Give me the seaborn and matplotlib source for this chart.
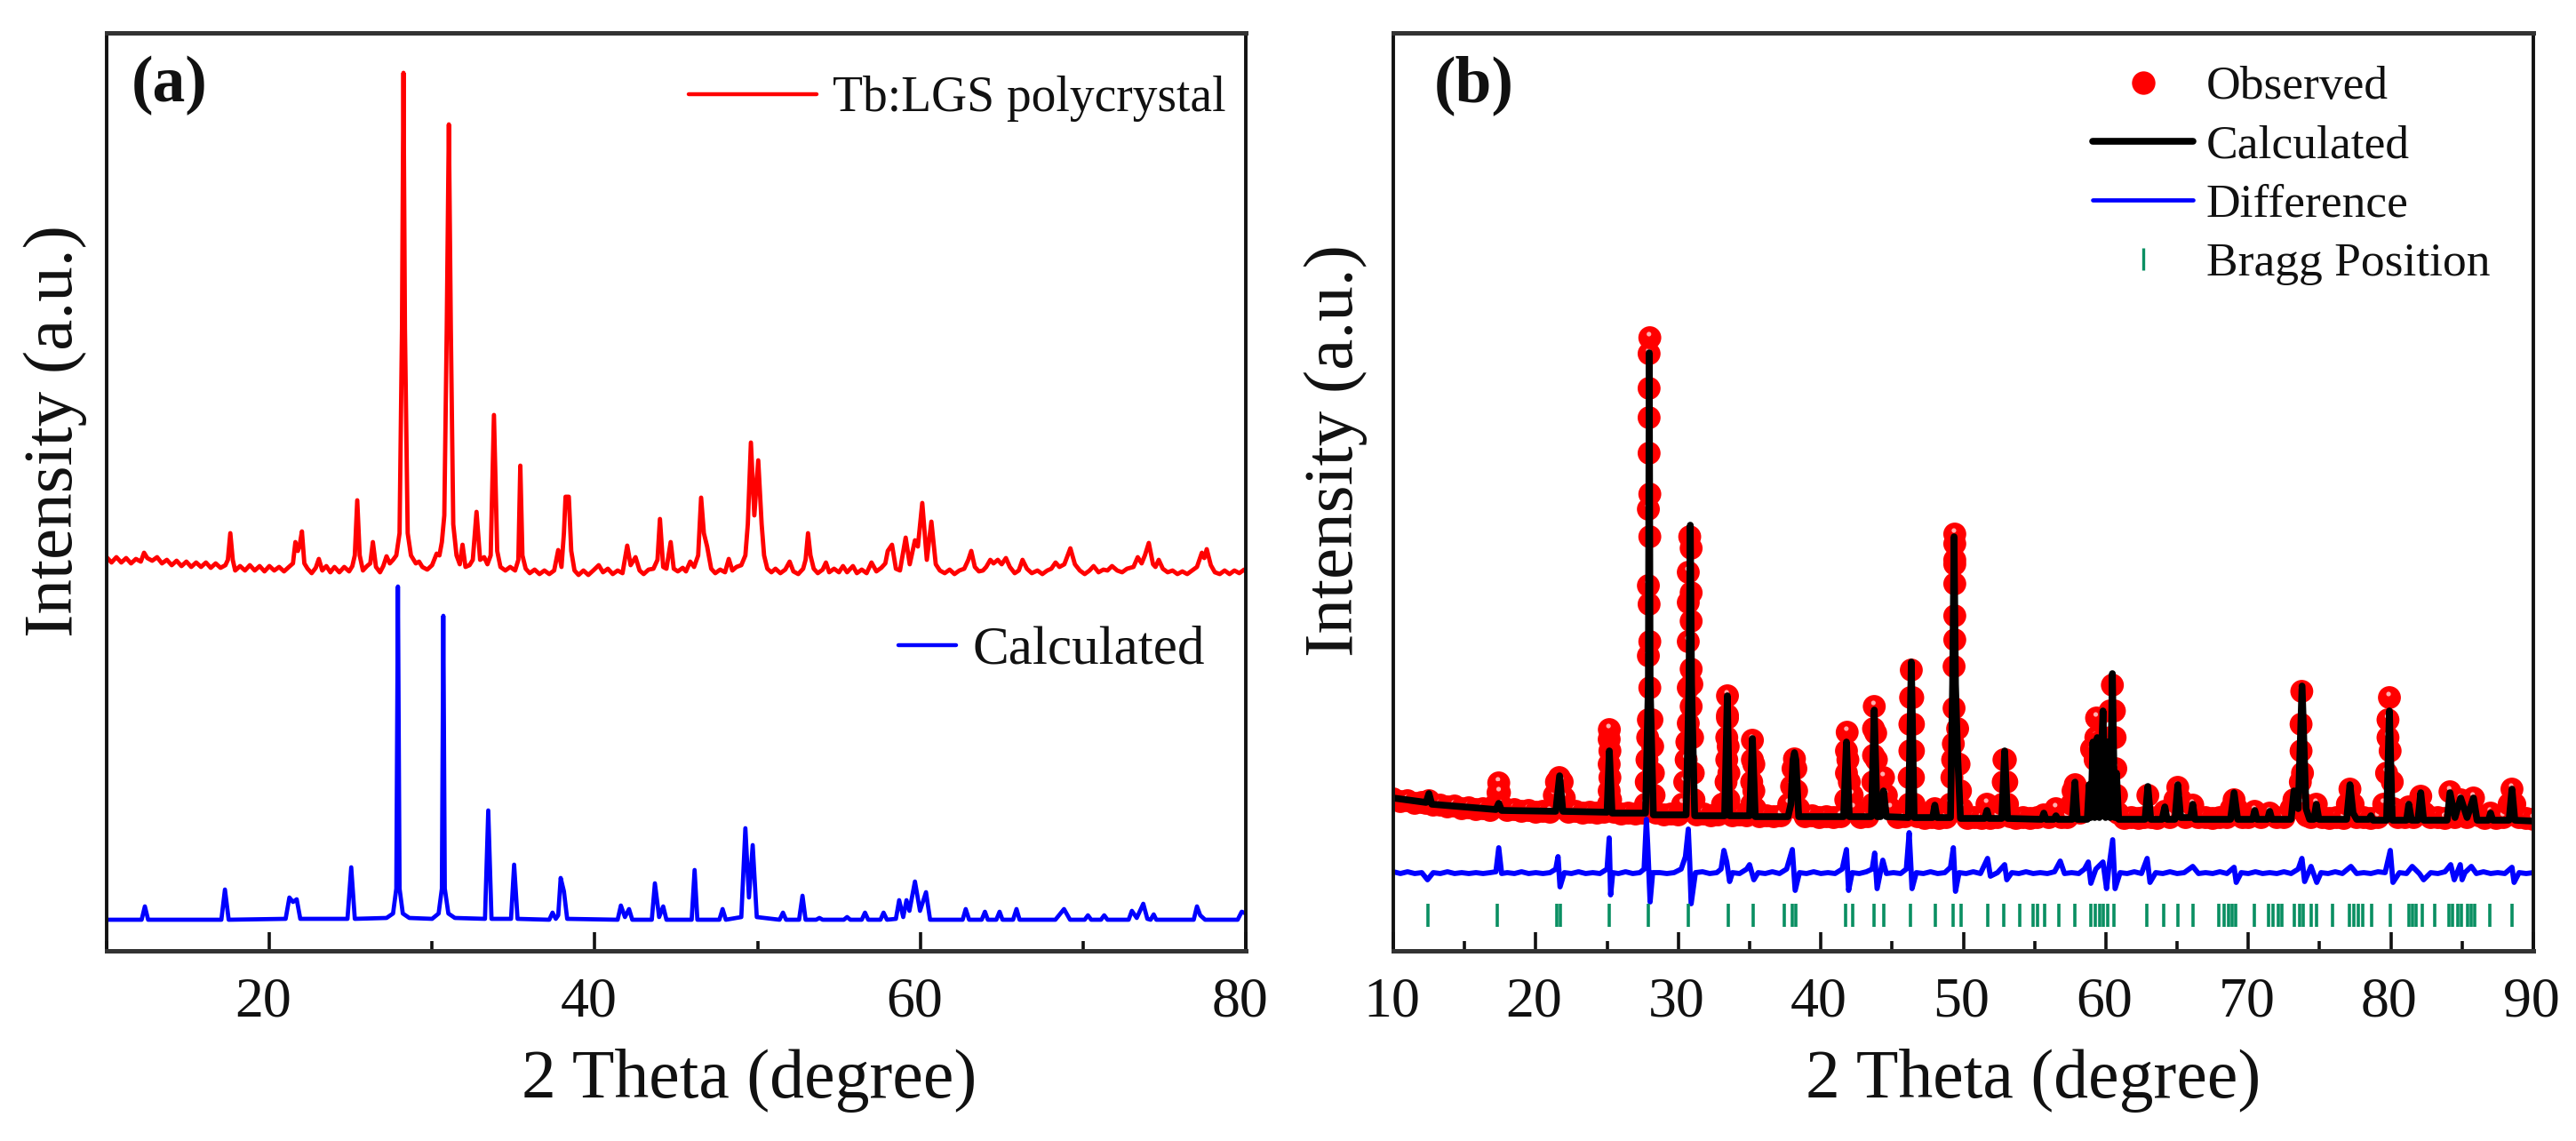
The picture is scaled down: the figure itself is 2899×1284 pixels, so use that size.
import matplotlib
matplotlib.use("Agg")
import matplotlib.pyplot as plt
import numpy as np
import pandas as pd
import seaborn as sns
from matplotlib.lines import Line2D
from matplotlib.ticker import MultipleLocator
from matplotlib.transforms import ScaledTranslation

# intensity values below (arbitrary units)

# panel a, polycrystal pattern
poly_x = [
    10.0, 10.3, 10.6, 10.9, 11.2, 11.5, 11.8, 12.1, 12.3, 12.5,
    12.8, 13.1, 13.4, 13.7, 14.0, 14.3, 14.6, 14.9, 15.2, 15.5,
    15.8, 16.1, 16.4, 16.7, 17.0, 17.3, 17.45, 17.6, 17.75, 17.9,
    18.2, 18.5, 18.8, 19.1, 19.4, 19.7, 20.0, 20.3, 20.6, 20.9,
    21.2, 21.45, 21.6, 21.75, 21.85, 22.0, 22.15, 22.35, 22.6, 22.85,
    23.04, 23.25, 23.5, 23.75, 24.0, 24.3, 24.6, 24.9, 25.1, 25.25,
    25.4, 25.55, 25.75, 26.0, 26.2, 26.36, 26.55, 26.8, 27.0, 27.2,
    27.4, 27.6, 27.8, 28.0, 28.15, 28.24, 28.33, 28.5, 28.7, 29.0,
    29.2, 29.4, 29.7, 30.0, 30.28, 30.45, 30.6, 30.75, 30.9, 31.03,
    31.15, 31.3, 31.5, 31.7, 31.87, 32.05, 32.3, 32.5, 32.73, 32.95,
    33.2, 33.4, 33.6, 33.8, 34.0, 34.2, 34.5, 34.8, 35.1, 35.3,
    35.42, 35.55, 35.75, 36.0, 36.3, 36.6, 36.9, 37.2, 37.5, 37.75,
    37.95, 38.1, 38.2, 38.4, 38.55, 38.75, 39.0, 39.3, 39.6, 39.9,
    40.24, 40.5, 40.8, 41.1, 41.4, 41.7, 41.99, 42.2, 42.5, 42.75,
    43.0, 43.3, 43.6, 43.85, 44.0, 44.2, 44.4, 44.66, 44.85, 45.1,
    45.4, 45.6, 45.86, 46.1, 46.35, 46.53, 46.7, 46.9, 47.15, 47.4,
    47.7, 48.0, 48.23, 48.45, 48.7, 49.0, 49.25, 49.4, 49.59, 49.8,
    50.04, 50.25, 50.4, 50.6, 50.85, 51.1, 51.4, 51.7, 51.97, 52.2,
    52.5, 52.8, 52.95, 53.1, 53.25, 53.45, 53.7, 54.0, 54.2, 54.4,
    54.7, 55.0, 55.25, 55.5, 55.86, 56.1, 56.4, 56.7, 57.0, 57.3,
    57.6, 57.85, 58.0, 58.26, 58.5, 58.75, 59.1, 59.35, 59.67, 59.85,
    60.12, 60.4, 60.68, 60.95, 61.2, 61.5, 61.8, 62.1, 62.4, 62.7,
    62.95, 63.13, 63.35, 63.6, 63.85, 64.05, 64.3, 64.5, 64.76, 65.0,
    65.26, 65.5, 65.8, 66.05, 66.28, 66.55, 66.85, 67.2, 67.5, 67.8,
    68.05, 68.31, 68.55, 68.85, 69.22, 69.5, 69.8, 70.1, 70.4, 70.65,
    70.95, 71.25, 71.5, 71.78, 72.1, 72.4, 72.7, 73.1, 73.36, 73.6,
    73.8, 74.04, 74.3, 74.45, 74.65, 74.9, 75.2, 75.5, 75.8, 76.1,
    76.4, 76.7, 77.0, 77.3, 77.45, 77.6, 77.85, 78.1, 78.4, 78.7,
    79.0, 79.3, 79.6, 79.9, 80.0,
]
poly_y = [
    443, 437, 443, 437, 442, 436, 441, 438, 448, 442,
    439, 443, 436, 440, 434, 439, 433, 438, 432, 437,
    432, 437, 431, 436, 431, 434, 440, 470, 440, 428,
    433, 428, 434, 428, 433, 427, 433, 428, 432, 427,
    432, 436, 460, 450, 455, 472, 436, 430, 425, 431,
    441, 428, 433, 426, 432, 426, 432, 427, 433, 445,
    507, 445, 428, 433, 436, 460, 432, 426, 433, 444,
    436, 440, 445, 470, 700, 988, 700, 470, 445, 436,
    438, 432, 429, 434, 447, 445, 460, 490, 700, 930,
    700, 480, 445, 435, 457, 432, 434, 440, 494, 440,
    443, 435, 445, 603, 450, 432, 428, 432, 428, 440,
    546, 445, 430, 425, 429, 424, 428, 424, 428, 451,
    432, 470, 511, 511, 450, 428, 423, 428, 423, 428,
    434, 426, 430, 424, 428, 425, 456, 434, 443, 428,
    424, 429, 430, 440, 486, 432, 430, 460, 430, 427,
    431, 427, 438, 432, 445, 510, 470, 455, 430, 425,
    429, 426, 441, 428, 432, 434, 445, 480, 572, 490,
    552, 480, 445, 430, 426, 430, 425, 429, 438, 427,
    424, 430, 440, 470, 445, 430, 425, 429, 437, 426,
    430, 426, 433, 426, 433, 425, 429, 425, 437, 427,
    431, 436, 450, 457, 430, 428, 465, 435, 462, 455,
    504, 440, 483, 435, 428, 425, 429, 424, 428, 430,
    440, 450, 432, 427, 428, 432, 440, 436, 440, 435,
    442, 432, 425, 428, 440, 430, 425, 428, 424, 428,
    430, 437, 432, 435, 453, 435, 428, 424, 428, 433,
    426, 429, 428, 433, 428, 426, 430, 432, 443, 436,
    445, 459, 435, 432, 440, 430, 426, 428, 424, 427,
    424, 428, 432, 448, 442, 452, 434, 426, 424, 428,
    424, 428, 425, 429, 427,
]

# panel a, calculated pattern
model_x = [
    10.0, 12.15, 12.35, 12.55, 17.05, 17.27, 17.5, 21.0, 21.23, 21.45,
    21.68, 21.9, 24.8, 25.03, 25.25, 27.2, 27.6, 27.8, 27.9, 28.0,
    28.2, 28.6, 30.0, 30.4, 30.6, 30.69, 30.78, 31.0, 31.4, 33.25,
    33.45, 33.65, 34.85, 35.04, 35.25, 37.2, 37.4, 37.6, 37.75, 37.9,
    38.1, 38.3, 41.4, 41.6, 41.85, 42.1, 42.3, 43.5, 43.69, 43.95,
    44.2, 44.4, 45.95, 46.13, 46.3, 47.65, 47.85, 48.05, 49.0, 49.25,
    49.47, 49.7, 49.95, 51.35, 51.56, 51.75, 52.55, 52.76, 52.95, 53.6,
    53.8, 54.0, 55.3, 55.5, 55.7, 56.4, 56.6, 56.8, 57.55, 57.74,
    57.95, 58.5, 58.7, 58.95, 59.15, 59.33, 59.67, 59.98, 60.35, 60.6,
    62.6, 62.79, 63.0, 63.77, 63.97, 64.15, 64.67, 64.87, 65.05, 65.7,
    65.91, 66.1, 68.3, 68.83, 69.2, 70.1, 70.3, 70.5, 71.1, 71.3,
    71.5, 72.8, 73.0, 73.3, 73.7, 73.95, 74.15, 74.34, 74.5, 76.8,
    77.0, 77.2, 77.5, 79.5, 79.75, 80.0,
]
model_y = [
    35, 35, 50, 35, 35, 69, 35, 36, 60, 55,
    58, 36, 36, 94, 36, 37, 42, 70, 410, 70,
    42, 37, 36, 42, 70, 377, 70, 42, 37, 36,
    158, 36, 36, 97, 36, 35, 43, 36, 40, 82,
    67, 36, 35, 51, 38, 47, 35, 35, 76, 38,
    50, 35, 35, 91, 35, 35, 47, 35, 38, 138,
    60, 119, 38, 35, 43, 35, 35, 62, 35, 35,
    37, 35, 35, 38, 35, 35, 43, 35, 35, 43,
    35, 36, 57, 38, 57, 45, 78, 45, 66, 35,
    35, 47, 35, 35, 44, 35, 35, 44, 35, 35,
    47, 35, 35, 47, 35, 35, 40, 35, 35, 40,
    35, 35, 45, 37, 53, 36, 35, 41, 35, 35,
    50, 40, 35, 35, 44, 42,
]

# panel b, observed points
obs_x = [
    10.0, 10.5, 11.0, 11.5, 12.0, 12.3, 12.5, 12.8, 13.3, 13.8,
    14.3, 14.8, 15.3, 15.8, 16.3, 16.8, 17.2, 17.35, 17.4, 17.45,
    17.6, 18.0, 18.5, 19.0, 19.5, 20.0, 20.5, 21.0, 21.3, 21.45,
    21.65, 21.85, 22.0, 22.3, 22.8, 23.3, 23.8, 24.3, 24.8, 25.1,
    25.15, 25.2, 25.15, 25.2, 25.15, 25.16, 25.25, 25.5, 26.0, 26.5,
    27.0, 27.5, 27.7, 27.75, 27.8, 27.85, 27.9, 28.0, 27.9, 28.0,
    27.95, 27.9, 28.0, 27.9, 28.0, 27.95, 27.95, 27.95, 28.0, 27.95,
    28.15, 28.2, 28.25, 28.3, 28.45, 29.0, 29.5, 30.0, 30.3, 30.45,
    30.55, 30.6, 30.7, 30.9, 30.7, 30.9, 30.7, 30.9, 30.7, 30.9,
    30.7, 30.9, 30.8, 30.95, 31.0, 31.05, 31.1, 31.3, 31.8, 32.3,
    32.8, 33.1, 33.35, 33.4, 33.4, 33.45, 33.45, 33.45, 33.5, 33.55,
    33.55, 33.6, 33.8, 34.3, 34.8, 35.15, 35.15, 35.2, 35.2, 35.3,
    35.3, 35.4, 35.7, 36.2, 36.7, 37.2, 37.75, 37.95, 38.05, 38.15,
    38.25, 38.3, 38.45, 38.9, 39.4, 39.9, 40.4, 40.9, 41.4, 41.75,
    41.8, 41.8, 41.85, 41.9, 42.0, 42.2, 42.3, 42.8, 43.3, 43.65,
    43.65, 43.7, 43.7, 43.75, 43.85, 43.9, 44.0, 44.4, 44.6, 44.9,
    45.4, 45.9, 46.2, 46.2, 46.25, 46.25, 46.3, 46.35, 46.45, 46.5,
    46.5, 46.5, 46.55, 46.8, 47.3, 47.8, 48.0, 48.3, 48.8, 49.1,
    49.2, 49.25, 49.3, 49.35, 49.35, 49.4, 49.4, 49.4, 49.4, 49.4,
    49.4, 49.4, 49.6, 49.7, 49.8, 49.9, 50.3, 50.8, 51.3, 51.66,
    51.9, 52.4, 52.75, 52.8, 52.85, 52.95, 53.05, 53.1, 53.3, 53.7,
    54.2, 54.7, 55.2, 55.65, 56.0, 56.5, 56.9, 57.3, 57.6, 57.7,
    57.85, 58.0, 58.2, 58.7, 58.85, 59.0, 59.25, 59.3, 59.35, 59.6,
    60.3, 60.35, 60.46, 60.6, 60.65, 60.7, 60.75, 60.85, 61.3, 61.8,
    62.3, 62.7, 62.95, 63.2, 63.6, 64.14, 64.5, 64.85, 65.05, 65.25,
    65.6, 66.1, 66.5, 67.0, 67.5, 68.0, 68.5, 68.8, 69.0, 69.2,
    69.6, 70.0, 70.45, 70.9, 71.5, 72.0, 72.5, 73.0, 73.2, 73.5,
    73.65, 73.7, 73.75, 73.7, 73.8, 73.9, 74.0, 74.1, 74.4, 74.77,
    75.2, 75.7, 76.2, 76.7, 76.95, 77.13, 77.35, 77.6, 78.1, 78.6,
    79.1, 79.5, 79.7, 79.8, 79.9, 79.8, 79.95, 80.1, 80.2, 80.5,
    81.0, 81.26, 81.6, 81.9, 82.1, 82.35, 82.8, 83.3, 83.8, 84.15,
    84.5, 84.9, 85.35, 85.8, 86.2, 86.6, 87.0, 87.4, 87.9, 88.3,
    88.5, 88.7, 89.0, 89.5, 90.0,
]
obs_y = [
    171, 168, 169, 166, 167, 166, 169, 164, 164, 162,
    163, 160, 161, 159, 160, 158, 165, 178, 189, 178,
    163, 158, 159, 157, 158, 156, 157, 156, 175, 190,
    195, 190, 172, 156, 157, 155, 156, 155, 156, 165,
    180, 195, 210, 225, 238, 249, 170, 156, 154, 155,
    154, 155, 165, 190, 215, 240, 260, 296, 332, 348,
    390, 411, 466, 497, 514, 560, 633, 672, 690, 600,
    260, 230, 200, 175, 155, 153, 154, 153, 165, 190,
    215, 235, 256, 275, 296, 317, 348, 371, 392, 403,
    426, 453, 466, 300, 240, 200, 170, 153, 154, 152,
    153, 165, 190, 215, 240, 265, 287, 262, 230, 200,
    170, 155, 152, 153, 152, 165, 190, 215, 237, 210,
    180, 160, 151, 152, 151, 152, 165, 185, 205, 216,
    205, 180, 160, 151, 152, 150, 151, 150, 151, 170,
    200, 225, 246, 215, 190, 175, 160, 150, 151, 165,
    190, 220, 250, 275, 245, 215, 190, 195, 175, 160,
    150, 151, 165, 195, 225, 255, 285, 316, 285, 255,
    225, 195, 165, 151, 149, 150, 160, 149, 150, 165,
    195, 215, 233, 273, 320, 350, 377, 413, 435, 458,
    469, 440, 250, 210, 180, 160, 149, 150, 149, 165,
    149, 150, 165, 190, 215, 215, 190, 165, 151, 149,
    150, 149, 150, 153, 150, 160, 150, 150, 165, 180,
    187, 175, 155, 165, 177, 227, 215, 240, 262, 235,
    270, 240, 299, 270, 240, 205, 175, 155, 149, 150,
    149, 150, 175, 150, 149, 157, 150, 170, 184, 170,
    150, 164, 150, 150, 149, 150, 150, 160, 170, 160,
    150, 150, 157, 150, 155, 150, 150, 160, 170, 165,
    190, 225, 292, 255, 200, 165, 155, 152, 150, 165,
    150, 149, 150, 149, 165, 182, 165, 150, 150, 149,
    150, 165, 200, 240, 285, 260, 225, 190, 160, 150,
    150, 162, 150, 165, 174, 155, 150, 150, 149, 179,
    150, 170, 150, 172, 152, 149, 155, 149, 150, 165,
    182, 165, 150, 149, 148,
]

# panel b, calculated curve
fit_x = [
    10.0, 12.3, 12.5, 12.7, 17.2, 17.4, 17.6, 21.4, 21.67, 21.9,
    25.0, 25.16, 25.35, 27.7, 27.9, 27.96, 28.02, 28.25, 30.55, 30.75,
    30.84, 30.93, 31.15, 33.25, 33.44, 33.6, 35.0, 35.2, 35.4, 37.7,
    37.9, 38.05, 38.15, 38.25, 38.45, 41.6, 41.8, 42.0, 43.55, 43.75,
    43.95, 44.2, 44.4, 44.6, 46.15, 46.35, 46.55, 47.85, 48.0, 48.15,
    49.1, 49.25, 49.35, 49.45, 49.6, 49.8, 51.5, 51.66, 51.8, 52.7,
    52.9, 53.1, 55.5, 55.65, 55.8, 56.35, 56.5, 56.65, 57.65, 57.83,
    58.0, 58.7, 58.83, 58.95, 59.1, 59.22, 59.4, 59.55, 59.8, 59.98,
    60.15, 60.3, 60.46, 60.62, 60.75, 60.9,
    62.75, 62.95, 63.15, 63.95, 64.14, 64.3, 64.85, 65.05, 65.25,
    65.95, 66.1, 66.25, 68.75, 69.0, 69.25, 70.3, 70.45, 70.6, 71.35,
    71.5, 71.65, 73.0, 73.2, 73.5, 73.77, 74.05, 74.3, 74.6, 74.77,
    74.95, 76.9, 77.13, 77.35, 77.6, 78.45, 78.6, 78.75, 79.7, 79.9,
    80.1, 81.1, 81.26, 81.45, 81.9, 82.1, 82.3, 83.95, 84.15, 84.5,
    84.9, 85.35, 85.8, 86.05, 86.85, 87.0, 87.15, 88.3, 88.5, 88.7,
    90.0,
]
fit_y = [
    172, 167, 177, 165, 159, 166, 158, 157, 197, 157,
    156, 225, 155, 155, 300, 673, 300, 153, 153, 300,
    479, 300, 152, 152, 287, 152, 152, 239, 151, 151,
    165, 215, 223, 215, 151, 151, 235, 151, 151, 271,
    151, 151, 180, 151, 150, 325, 150, 150, 164, 150,
    150, 300, 466, 300, 220, 149, 149, 158, 149, 149,
    225, 149, 148, 155, 148, 148, 152, 148, 148, 190,
    148, 148, 187, 150, 235, 150, 240, 150, 270, 150,
    235, 150, 312, 150, 200, 148,
    148, 185, 148, 148, 162, 148, 148, 187, 150,
    150, 165, 148, 148, 178, 148, 148, 158, 148, 148,
    157, 148, 148, 180, 160, 298, 160, 148, 148, 165,
    148, 148, 187, 155, 148, 148, 152, 147, 147, 270,
    147, 147, 165, 147, 147, 178, 147, 147, 178, 150,
    172, 150, 172, 147, 147, 155, 147, 147, 182, 147,
    146,
]

# panel b, difference curve
diff_x = [
    10.0, 10.5, 11.0, 11.5, 12.0, 12.4, 12.8, 13.3, 13.8, 14.3,
    14.8, 15.3, 15.8, 16.3, 16.8, 17.2, 17.4, 17.6, 18.0, 18.5,
    19.0, 19.5, 20.0, 20.5, 21.0, 21.4, 21.56, 21.7, 22.0, 22.5,
    23.0, 23.5, 24.0, 24.5, 25.0, 25.15, 25.25, 25.4, 25.8, 26.3,
    26.8, 27.3, 27.6, 27.76, 27.85, 28.02, 28.2, 28.7, 29.2, 29.7,
    30.2, 30.5, 30.7, 30.8, 30.9, 31.2, 31.7, 32.2, 32.7, 33.0,
    33.2, 33.4, 33.6, 33.8, 34.3, 34.8, 35.0, 35.3, 35.6, 36.1,
    36.6, 37.1, 37.6, 38.0, 38.2, 38.5, 39.0, 39.5, 40.0, 40.5,
    41.0, 41.5, 41.8, 41.95, 42.2, 42.7, 43.2, 43.6, 43.78, 43.95,
    44.35, 44.6, 45.1, 45.6, 46.0, 46.2, 46.4, 46.7, 47.2, 47.7,
    48.2, 48.7, 49.1, 49.3, 49.45, 49.7, 50.2, 50.7, 51.2, 51.7,
    51.9, 52.4, 52.9, 53.05, 53.4, 53.9, 54.4, 54.9, 55.4, 55.9,
    56.4, 56.8, 57.1, 57.6, 58.1, 58.5, 58.77, 58.95, 59.3, 59.8,
    60.05, 60.2, 60.48, 60.65, 61.0, 61.5, 62.0, 62.5, 62.9, 63.1,
    63.5, 64.0, 64.5, 65.0, 65.5, 66.1, 66.5, 67.0, 67.5, 68.0,
    68.5, 69.0, 69.15, 69.5, 70.0, 70.5, 71.0, 71.5, 72.0, 72.5,
    73.0, 73.5, 73.76, 73.95, 74.4, 74.8, 75.1, 75.6, 76.1, 76.6,
    77.2, 77.6, 78.1, 78.6, 79.1, 79.6, 79.96, 80.15, 80.6, 81.1,
    81.5, 82.0, 82.3, 82.8, 83.3, 83.8, 84.2, 84.45, 84.87, 85.0,
    85.2, 85.65, 86.0, 86.5, 87.0, 87.5, 88.0, 88.5, 88.65, 89.0,
    89.5, 90.0,
]
diff_y = [
    89, 87, 89, 87, 88, 80, 88, 87, 89, 87,
    88, 87, 88, 87, 88, 89, 116, 87, 88, 87,
    89, 87, 88, 87, 88, 92, 106, 72, 88, 87,
    89, 87, 88, 87, 92, 127, 63, 88, 87, 89,
    87, 88, 92, 148, 120, 55, 88, 88, 87, 88,
    92, 106, 137, 100, 53, 88, 89, 87, 88, 92,
    113, 100, 78, 88, 87, 92, 97, 80, 88, 87,
    89, 87, 92, 114, 68, 88, 87, 89, 87, 88,
    87, 92, 114, 68, 88, 87, 89, 92, 110, 70,
    102, 87, 88, 87, 92, 133, 70, 88, 87, 89,
    87, 88, 94, 116, 67, 88, 87, 89, 87, 104,
    84, 88, 97, 80, 88, 87, 89, 87, 88, 87,
    89, 101, 87, 88, 87, 92, 100, 76, 92, 100,
    70, 92, 125, 70, 88, 87, 89, 87, 104, 77,
    88, 87, 89, 87, 88, 95, 87, 88, 87, 89,
    87, 94, 77, 88, 87, 89, 87, 88, 87, 89,
    87, 92, 104, 78, 95, 77, 88, 87, 89, 87,
    95, 87, 88, 87, 89, 88, 113, 77, 88, 87,
    95, 87, 80, 88, 87, 89, 97, 80, 97, 80,
    88, 95, 87, 89, 87, 88, 87, 94, 77, 88,
    87, 88,
]

# panel b, reflection positions
bragg_x = [
    12.41, 17.32, 21.46, 21.7, 25.13, 27.92, 30.7, 33.5, 35.26, 37.43,
    38.0, 38.25, 41.72, 42.23, 43.73, 44.4, 46.26, 48.02, 49.3, 49.83,
    51.69, 52.83, 53.96, 54.89, 55.2, 55.72, 56.7, 57.84, 58.93, 59.29,
    59.55, 59.8, 60.16, 60.58, 62.9, 64.09, 65.08, 66.11, 67.92, 68.33,
    68.59, 68.85, 69.1, 70.45, 71.43, 71.74, 72.1, 72.36, 73.24, 73.6,
    73.86, 74.43, 74.79, 75.88, 77.12, 77.43, 77.74, 78.05, 78.67, 79.96,
    81.25, 81.5, 81.77, 82.18, 83.06, 84.09, 84.35, 84.71, 84.97, 85.39,
    85.64, 85.9, 86.93, 88.49,
]

RED = "#ff0000"
BLUE = "#0000ff"
GREEN = "#0a8f62"
INK = "#111111"

sns.set_theme(style="ticks")
plt.rcParams["font.family"] = ["Liberation Serif", "DejaVu Serif"]

W, H = 2899, 1284
fig = plt.figure(figsize=(W / 100, H / 100), dpi=100, facecolor="white")


def finish_axes(ax, xmin, xmax, major, minor, label_x, label_y, tag, tag_x, shift):
    ax.set_xlim(xmin, xmax)
    ax.set_ylim(0, 1033)
    ax.set_yticks([])
    ax.set_ylabel("")
    ax.set_facecolor("white")
    ax.xaxis.set_major_locator(MultipleLocator(major))
    ax.xaxis.set_minor_locator(MultipleLocator(minor))
    for side in ["top", "bottom"]:
        ax.spines[side].set_linewidth(3.6)
        ax.spines[side].set_color("#333333")
    for side in ["left", "right"]:
        ax.spines[side].set_linewidth(2.8)
        ax.spines[side].set_color(INK)
    ax.tick_params(axis="x", which="major", direction="in", length=15, width=2.6,
                   color=INK, labelsize=46, pad=21, labelcolor=INK)
    ax.tick_params(axis="x", which="minor", direction="in", length=8, width=2.6, color=INK)
    # the labels of the original sit a little left of their ticks
    for lab in ax.get_xticklabels():
        lab.set_transform(lab.get_transform() + ScaledTranslation(shift / 100, 0, fig.dpi_scale_trans))
    ax.set_xlabel("2 Theta (degree)", fontsize=56, color=INK, va="baseline")
    ax.xaxis.set_label_coords((label_x - ax.bbox.x0) / ax.bbox.width, -(1235 - 1070) / 1033)
    fig.text(tag_x / W, 1 - 96 / H, tag, fontsize=53, fontweight="bold",
             va="center", ha="left", color=INK)
    fig.text(label_y[0] / W, 1 - label_y[1] / H, "Intensity (a.u.)", rotation=90,
             fontsize=57, va="center", ha="center", color=INK)


# panel (a)
ax_a = fig.add_axes([120 / W, 1 - 1070 / H, 1282 / W, 1033 / H])
sns.lineplot(x=poly_x, y=poly_y, sort=False, estimator=None, color=RED, linewidth=3.5, ax=ax_a)
sns.lineplot(x=model_x, y=model_y, sort=False, estimator=None, color=BLUE, linewidth=3.4, ax=ax_a)
finish_axes(ax_a, 10, 80, 20, 10, 843, (62, 485), "(a)", 148, -7)

leg_red = ax_a.legend(handles=[Line2D([], [], color=RED, linewidth=3.2)],
                      labels=["Tb:LGS polycrystal"], frameon=False, fontsize=40,
                      handlelength=2.6, handletextpad=0.32, borderpad=0, borderaxespad=0,
                      loc="center left", bbox_to_anchor=((775 - 120) / 1282, 1 - (111 - 37) / 1033),
                      labelcolor=INK)
ax_a.add_artist(leg_red)
ax_a.legend(handles=[Line2D([], [], color=BLUE, linewidth=3.2)],
            labels=["Calculated"], frameon=False, fontsize=44,
            handlelength=1.07, handletextpad=0.29, borderpad=0, borderaxespad=0,
            loc="center left", bbox_to_anchor=((1011 - 120) / 1282, 1 - (732 - 37) / 1033),
            labelcolor=INK)

# panel (b): each point gets a red disc, then a pale glint, in drawing order
obs = pd.DataFrame({
    "x": np.ravel(np.column_stack([obs_x, np.array(obs_x) - 0.06])),
    "y": np.ravel(np.column_stack([obs_y, np.array(obs_y) + 4])),
    "layer": ["disc", "glint"] * len(obs_x),
})
ax_b = fig.add_axes([1568 / W, 1 - 1070 / H, 1283 / W, 1033 / H])
sns.scatterplot(data=obs, x="x", y="y", hue="layer", size="layer",
                palette={"disc": RED, "glint": "#ffb0b0"},
                sizes={"disc": 345, "glint": 14},
                linewidth=0, legend=False, ax=ax_b)
sns.lineplot(x=fit_x, y=fit_y, sort=False, estimator=None, color="black", linewidth=5.5, ax=ax_b)
sns.lineplot(x=diff_x, y=diff_y, sort=False, estimator=None, color=BLUE, linewidth=4.2, ax=ax_b)
ax_b.vlines(bragg_x, 27, 53, color=GREEN, linewidth=2.6)
finish_axes(ax_b, 10, 90, 10, 5, 2288, (1503, 507), "(b)", 1614, -2)

disc = Line2D([], [], linestyle="none", marker="o", markersize=19, color=RED, markeredgewidth=0)
handles = [
    disc,
    Line2D([], [], color="black", linewidth=5.5),
    Line2D([], [], color=BLUE, linewidth=3.4),
    Line2D([], [], linestyle="none", marker="|", markersize=18, color=GREEN, markeredgewidth=2.4),
]
ax_b.legend(handles=handles, labels=["Observed", "Calculated", "Difference", "Bragg Position"],
            frameon=False, fontsize=38.5, handlelength=2.12, handletextpad=0.27,
            labelspacing=0.33, borderpad=0, borderaxespad=0, loc="upper left",
            bbox_to_anchor=((2355 - 1568) / 1283, 1 - (74 - 37) / 1033),
            labelcolor=INK)

fig.savefig("out.png", dpi=100, facecolor="white")
